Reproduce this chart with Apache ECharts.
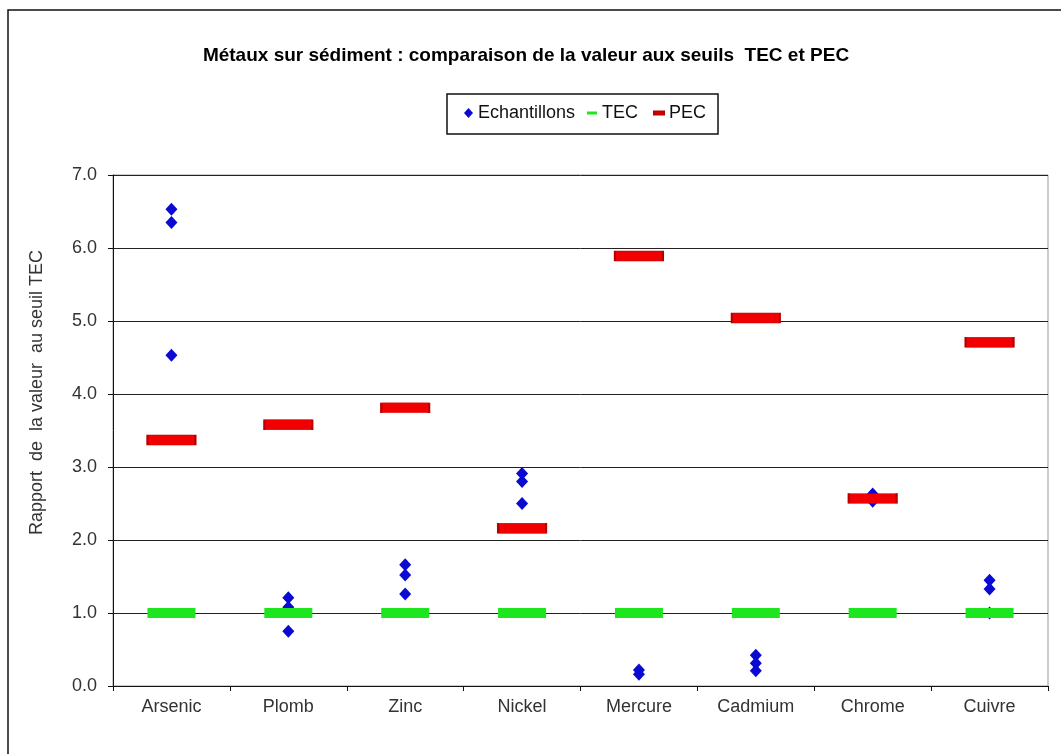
<!DOCTYPE html>
<html>
<head>
<meta charset="utf-8">
<script src="https://cdn.jsdelivr.net/npm/echarts@6/dist/echarts.min.js"></script>
<style>
html,body{margin:0;padding:0;background:#fff;}
#chart{width:1061px;height:754px;}
</style>
</head>
<body>
<div id="chart"></div>
<script>
const categories = ['Arsenic', 'Plomb', 'Zinc', 'Nickel', 'Mercure', 'Cadmium', 'Chrome', 'Cuivre'];
const arsenicSamples = [6.53, 6.35, 4.53];
const plombSamples = [1.21, 1.08, 0.75];
const zincSamples = [1.66, 1.52, 1.26];
const nickelSamples = [2.91, 2.80, 2.50];
const mercureSamples = [0.22, 0.16];
const cadmiumSamples = [0.42, 0.31, 0.21];
const chromeSamples = [2.63, 2.53];
const cuivreSamples = [1.45, 1.33, 1.0];
const tecValues = [1, 1, 1, 1, 1, 1, 1, 1];
const pecValues = [3.37, 3.58, 3.81, 2.16, 5.89, 5.04, 2.57, 4.71];
const yTicks = ['0.0', '1.0', '2.0', '3.0', '4.0', '5.0', '6.0', '7.0'];

const sampleGroups = [arsenicSamples, plombSamples, zincSamples, nickelSamples,
  mercureSamples, cadmiumSamples, chromeSamples, cuivreSamples];
const sampleData = [];
sampleGroups.forEach((g, i) => g.forEach(v => sampleData.push([categories[i], v])));

const chart = echarts.init(document.getElementById('chart'), null, {renderer: 'canvas'});
const font = 'Liberation Sans, Arial, sans-serif';
chart.setOption({
  animation: false,
  backgroundColor: '#fff',
  title: {
    text: 'Métaux sur sédiment : comparaison de la valeur aux seuils  TEC et PEC',
    left: 521, top: 41, textAlign: 'center',
    textStyle: {fontFamily: font, fontSize: 19, fontWeight: 'bold', color: '#000'}
  },
  legend: [
    {
      data: [{name: 'Echantillons', icon: 'diamond'}],
      left: 464, top: 104, padding: 0,
      itemWidth: 9, itemHeight: 10,
      textStyle: {fontFamily: font, fontSize: 18, color: '#111'}
    },
    {
      data: [{name: 'TEC', icon: 'rect'}, {name: 'PEC', icon: 'rect'}],
      left: 587, top: 104, padding: 0,
      itemWidth: 10, itemHeight: 3, itemGap: 15,
      textStyle: {fontFamily: font, fontSize: 18, color: '#111'}
    }
  ],
  graphic: [
    {type: 'rect', shape: {x: 8, y: 10, width: 1080, height: 800}, style: {fill: 'none', stroke: '#111', lineWidth: 1.5}, silent: true, z: -1},
    {type: 'rect', shape: {x: 447, y: 94, width: 271, height: 40}, style: {fill: 'none', stroke: '#111', lineWidth: 1.5}, silent: true}
  ],
  grid: {left: 113, right: 13, top: 175, bottom: 68, show: true, borderColor: '#999', borderWidth: 1, backgroundColor: 'transparent'},
  xAxis: {
    type: 'category', data: categories, boundaryGap: true,
    axisLine: {lineStyle: {color: '#111', width: 1}},
    axisTick: {show: true, length: 5, lineStyle: {color: '#111'}},
    axisLabel: {fontFamily: font, fontSize: 18, color: '#333', margin: 12},
    splitLine: {show: false}
  },
  yAxis: {
    type: 'value', min: 0, max: 7, interval: 1,
    name: 'Rapport  de  la valeur  au seuil TEC',
    nameLocation: 'middle', nameRotate: 90, nameGap: 67,
    nameTextStyle: {fontFamily: font, fontSize: 18, color: '#333', padding: [0, 0, 0, 76]},
    axisLine: {show: true, lineStyle: {color: '#111', width: 1}},
    axisTick: {show: true, length: 5, lineStyle: {color: '#111'}},
    axisLabel: {fontFamily: font, fontSize: 18, color: '#333', margin: 16,
      formatter: v => yTicks[Math.round(v)]},
    splitLine: {show: true, lineStyle: {color: '#222', width: 1}}
  },
  series: [
    {
      name: 'Echantillons', type: 'scatter', data: sampleData,
      symbol: 'diamond', symbolSize: [12, 13],
      itemStyle: {color: '#0a0ad2', opacity: 1}, z: 2
    },
    {
      name: 'TEC', type: 'scatter', data: tecValues,
      symbol: 'rect', symbolSize: [48, 10],
      itemStyle: {color: '#1ee61e', opacity: 1}, z: 3
    },
    {
      name: 'PEC', type: 'scatter', data: pecValues,
      symbol: 'rect', symbolSize: [48, 10],
      itemStyle: {color: '#f00000', borderColor: '#b80000', borderWidth: 1, opacity: 1}, z: 3
    }
  ]
});
</script>
</body>
</html>
